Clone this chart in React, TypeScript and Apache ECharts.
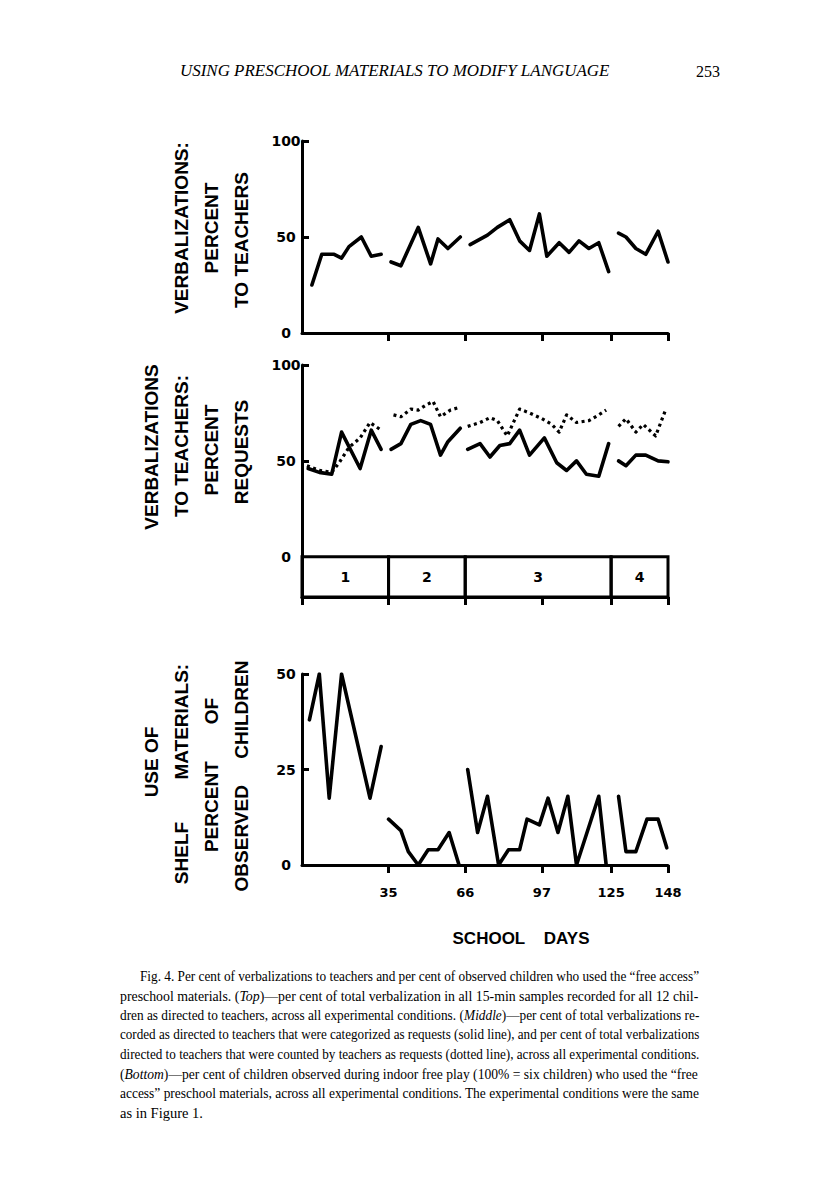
import React, { useEffect, useRef } from "react";
import * as echarts from "echarts";

// ---- data (school day, percent) ----
const dayTicks = [35, 66, 97, 125, 148];
const conditionBounds = [0, 35, 66, 125, 148];
const conditionLabels = ["1", "2", "3", "4"];

const topYLabels = [0, 50, 100];
const midYLabels = [0, 50, 100];
const bottomYLabels = [0, 25, 50];

// Top: per cent of verbalizations directed to teachers (one segment per condition)
const topVerbalToTeachers = [
  [[4, 25], [8, 41], [13, 41], [16, 39], [19, 45], [24, 50], [28, 40], [32, 41]],
  [[36, 37], [40, 35], [47, 55], [52, 36], [55, 49], [59, 44], [64, 50]],
  [[68, 46], [75, 51], [79, 55], [84, 59], [88, 48], [92, 43], [96, 62], [99, 40], [104, 47], [108, 42], [112, 48], [116, 44], [120, 47], [124, 32]],
  [[128, 52], [131, 50], [135, 44], [139, 41], [144, 53], [148, 37]],
];

// Middle: requests (solid line)
const midRequestsSolid = [
  [[2.5, 46], [7, 44], [12, 43], [16, 65], [23.5, 46], [28, 66], [32, 56]],
  [[36, 56], [40, 59], [44, 69], [48, 71], [52, 69], [56, 53], [59, 60], [64, 67]],
  [[67, 56], [72, 59], [76, 52], [80, 58], [84, 59], [88, 66], [92, 53], [98, 62], [103, 49], [107, 45], [111, 50], [115, 43], [120, 42], [124, 59]],
  [[128, 50], [131, 47.5], [135, 53], [139, 53], [144, 50], [148, 49.5]],
];

// Middle: counted by teachers as requests (dotted line)
const midRequestsDotted = [
  [[2, 47.5], [7, 45], [12, 44], [15, 49], [19, 57], [23.5, 62], [27.5, 70], [32, 66]],
  [[37, 74], [40, 73], [44, 77], [47, 76.5], [50, 79], [53, 81], [56, 73], [60, 76.5], [64, 78]],
  [[67, 68], [72, 70], [76, 72.5], [79, 71], [83, 63], [88, 77], [92, 75], [97, 72], [101, 69], [104, 65], [107, 74], [111, 70], [116, 71], [120, 74], [123, 76.5]],
  [[128, 68], [131, 72], [135, 65], [138, 69], [143, 63], [147, 76.5]],
];

// Bottom: per cent of observed children using shelf materials
const bottomShelfUse = [
  [[3, 38], [7, 50], [11, 17.5], [16, 50], [27.5, 17.5], [32, 31]],
  [[35, 12], [40, 9], [43, 3.5], [47, 0], [51, 4], [55, 4], [59.5, 8.5], [63.5, 0]],
  [[67, 25], [71, 8.5], [75, 18], [79.5, 0], [83.5, 4], [88, 4], [91, 12], [96, 10.5], [99.5, 17.5], [103.5, 8.5], [107.5, 18], [111, 0], [120, 18], [123, 0]],
  [[128, 18], [131, 3.5], [135, 3.5], [139.5, 12], [144, 12], [147.5, 4.5]],
];

const headerTitle = "USING PRESCHOOL MATERIALS TO MODIFY LANGUAGE";
const pageNumber = "253";
const xAxisTitle = "SCHOOL    DAYS";

const captionLines = [
  "Fig. 4. Per cent of verbalizations to teachers and per cent of observed children who used the \u201cfree access\u201d",
  "preschool materials. (_Top_)\u2014per cent of total verbalization in all 15-min samples recorded for all 12 chil-",
  "dren as directed to teachers, across all experimental conditions. (_Middle_)\u2014per cent of total verbalizations re-",
  "corded as directed to teachers that were categorized as requests (solid line), and per cent of total verbalizations",
  "directed to teachers that were counted by teachers as requests (dotted line), across all experimental conditions.",
  "(_Bottom_)\u2014per cent of children observed during indoor free play (100% = six children) who used the \u201cfree",
  "access\u201d preschool materials, across all experimental conditions. The experimental conditions were the same",
  "as in Figure 1.",
];

// ---- styling ----
const SANS = "'Liberation Sans', Arial, sans-serif";
const NUM = "'DejaVu Sans', sans-serif";
const SERIF = "'Liberation Serif', 'Times New Roman', serif";
const BLACK = "#000";

function measure(text: string, font: string): number {
  const c = document.createElement("canvas").getContext("2d");
  if (!c) return 0;
  c.font = font;
  return c.measureText(text).width;
}

function App() {
  const ref = useRef<HTMLDivElement>(null);

  useEffect(() => {
    if (!ref.current) return;
    const chart = echarts.init(ref.current, null, { renderer: "svg" });

    const G = { left: 302, width: 366 };
    const grids = [
      { left: G.left, width: G.width, top: 141, height: 192 },
      { left: G.left, width: G.width, top: 365, height: 232 },
      { left: G.left, width: G.width, top: 674, height: 191 },
    ];

    const axisLine = { show: true, onZero: false, lineStyle: { color: BLACK, width: 3 } };
    const labelStyle = { color: BLACK, fontFamily: NUM, fontWeight: "bold" as const, fontSize: 14 };

    const xAxes = [0, 1, 2].map((i) => ({
      type: "value",
      gridIndex: i,
      min: 0,
      max: 148,
      axisLine,
      splitLine: { show: false },
      axisTick: {
        show: true,
        inside: false,
        length: 8,
        lineStyle: { color: BLACK, width: 3 },
        customValues: i === 1 ? [0, ...dayTicks] : dayTicks,
      },
      axisLabel:
        i === 2
          ? { show: true, customValues: dayTicks, margin: 21, color: BLACK, fontFamily: NUM, fontWeight: "bold", fontSize: 13 }
          : { show: false },
    }));

    const yDefs = [
      { min: 0, max: 100, labels: topYLabels },
      { min: -21, max: 100, labels: midYLabels },
      { min: 0, max: 50, labels: bottomYLabels },
    ];
    const yAxes = yDefs.map((d, i) => ({
      type: "value",
      gridIndex: i,
      min: d.min,
      max: d.max,
      axisLine,
      splitLine: { show: false },
      axisTick: {
        show: true,
        inside: true,
        length: 7,
        lineStyle: { color: BLACK, width: 3 },
        customValues: d.labels.filter((v) => v !== 0),
      },
      axisLabel: { show: true, customValues: d.labels, margin: 16, align: "center", ...labelStyle },
    }));

    const solid = { color: BLACK, width: 3.6, cap: "round", join: "round" };
    const dotted = { color: BLACK, width: 3.2, type: [3, 3.5], cap: "butt", join: "round" };

    const lineSeries = (segs: number[][][], idx: number, style: any, name: string) =>
      segs.map((seg) => ({
        type: "line",
        name,
        xAxisIndex: idx,
        yAxisIndex: idx,
        data: seg,
        symbol: "none",
        showSymbol: false,
        silent: true,
        lineStyle: style,
        z: 3,
      }));

    const series: any[] = [
      ...lineSeries(topVerbalToTeachers, 0, solid, "To teachers"),
      ...lineSeries(midRequestsSolid, 1, solid, "Requests"),
      ...lineSeries(midRequestsDotted, 1, dotted, "Counted as requests"),
      ...lineSeries(bottomShelfUse, 2, solid, "Shelf materials"),
    ];
    // condition boxes under the middle chart
    series.push({
      type: "line",
      xAxisIndex: 1,
      yAxisIndex: 1,
      data: [],
      silent: true,
      markArea: {
        silent: true,
        itemStyle: { color: "rgba(0,0,0,0)", borderColor: BLACK, borderWidth: 3 },
        label: { show: true, position: "inside", color: BLACK, fontFamily: NUM, fontWeight: "bold", fontSize: 14 },
        data: conditionLabels.map((l, i) => [
          { name: l, coord: [conditionBounds[i], -21] },
          { coord: [conditionBounds[i + 1], 0] },
        ]),
      },
    });

    const rotText = (text: string, x: number, y: number, fontSize = 19) => ({
      type: "text",
      x,
      y,
      rotation: Math.PI / 2,
      silent: true,
      style: {
        text,
        fill: BLACK,
        fontFamily: SANS,
        fontWeight: "bold",
        fontSize,
        align: "center",
        verticalAlign: "middle",
        textAlign: "center",
        textVerticalAlign: "middle",
      },
    });

    const graphics: any[] = [
      // top chart titles
      rotText("VERBALIZATIONS:", 181, 228),
      rotText("PERCENT", 211, 228),
      rotText("TO TEACHERS", 241, 240),
      // middle chart titles
      rotText("VERBALIZATIONS", 151, 447),
      rotText("TO TEACHERS:", 181, 446),
      rotText("PERCENT", 211, 450),
      rotText("REQUESTS", 241, 452),
      // bottom chart titles
      rotText("USE OF", 151, 762),
      rotText("SHELF        MATERIALS:", 181, 774),
      rotText("PERCENT       OF", 211, 775),
      rotText("OBSERVED     CHILDREN", 241, 776),
    ];

    // x axis title
    graphics.push({
      type: "text",
      x: 521,
      y: 938,
      silent: true,
      style: {
        text: xAxisTitle,
        fill: BLACK,
        fontFamily: SANS,
        fontWeight: "bold",
        fontSize: 17,
        align: "center",
        verticalAlign: "middle",
        textAlign: "center",
        textVerticalAlign: "middle",
      },
    });

    // running header
    const headerFont = `italic 16px ${SERIF}`;
    const hw = measure(headerTitle, headerFont) || 428;
    graphics.push({
      type: "text",
      x: 180,
      y: 71,
      scaleX: 430 / hw,
      silent: true,
      style: {
        text: headerTitle,
        fill: BLACK,
        fontFamily: SERIF,
        fontStyle: "italic",
        fontSize: 16,
        align: "left",
        verticalAlign: "middle",
        textAlign: "left",
        textVerticalAlign: "middle",
      },
    });
    graphics.push({
      type: "text",
      x: 708,
      y: 71,
      silent: true,
      style: {
        text: pageNumber,
        fill: BLACK,
        fontFamily: SERIF,
        fontSize: 16,
        align: "center",
        verticalAlign: "middle",
        textAlign: "center",
        textVerticalAlign: "middle",
      },
    });

    // caption
    const capSize = 14.5;
    const capFont = `${capSize}px ${SERIF}`;
    captionLines.forEach((line, i) => {
      const parts = line.split("_");
      const plain = parts.join("");
      const x0 = i === 0 ? 140 : 120;
      const target = 700 - x0;
      const w = measure(plain, capFont) || target;
      const isLast = i === captionLines.length - 1;
      const rich = parts.map((p, k) => (k % 2 === 1 ? `{i|${p}}` : `{n|${p}}`)).join("");
      graphics.push({
        type: "text",
        x: x0,
        y: 976 + i * 19.5,
        scaleX: isLast ? 1 : target / w,
        silent: true,
        style: {
          text: rich,
          fill: BLACK,
          fontFamily: SERIF,
          fontSize: capSize,
          align: "left",
          verticalAlign: "middle",
          textAlign: "left",
          textVerticalAlign: "middle",
          rich: {
            n: { fontFamily: SERIF, fontSize: capSize, fill: BLACK, color: BLACK },
            i: { fontFamily: SERIF, fontSize: capSize, fontStyle: "italic", fill: BLACK, color: BLACK },
          },
        },
      });
    });

    chart.setOption({
      animation: false,
      backgroundColor: "#fff",
      grid: grids,
      xAxis: xAxes,
      yAxis: yAxes,
      series,
      graphic: graphics,
    });

    return () => chart.dispose();
  }, []);

  return (
    <div
      ref={ref}
      style={{ position: "absolute", left: 0, top: 0, width: 816, height: 1195, background: "#fff" }}
    />
  );
}

export default App;
